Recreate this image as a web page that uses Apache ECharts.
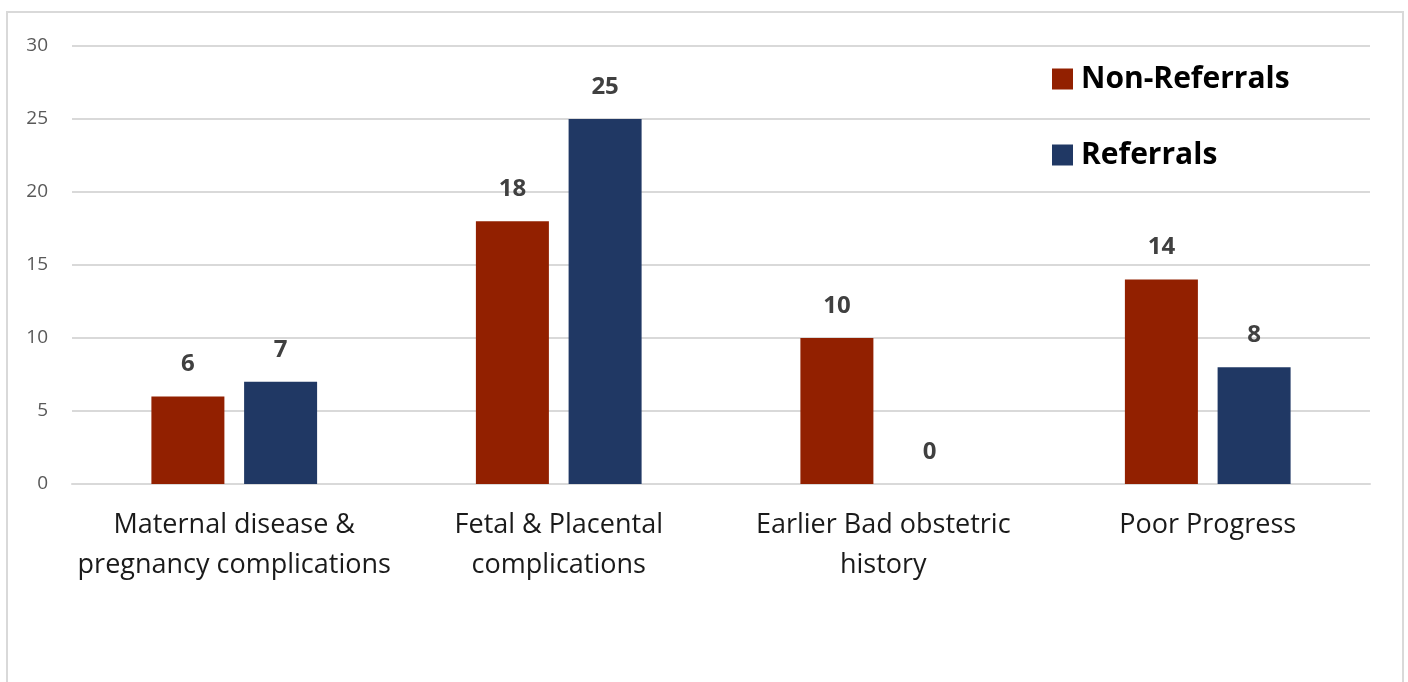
<!DOCTYPE html>
<html>
<head>
<meta charset="utf-8">
<style>
  html, body { margin: 0; padding: 0; background: #ffffff; }
  #chart { width: 1408px; height: 682px; }
</style>
<script src="https://cdn.jsdelivr.net/npm/echarts@6/dist/echarts.min.js"></script>
</head>
<body>
<div id="chart"></div>
<script>
// Indication categories and counts per group
const categories = [
  'Maternal disease &\npregnancy complications',
  'Fetal & Placental\ncomplications',
  'Earlier Bad obstetric\nhistory',
  'Poor Progress'
];
const nonReferrals = [6, 18, 10, 14];
const referrals = [7, 25, 0, 8];
const yTicks = { min: 0, max: 30, interval: 5 };

const FONT = '"Open Sans", "DejaVu Sans", sans-serif';
const RED = '#922000';
const BLUE = '#203864';

const chart = echarts.init(document.getElementById('chart'), null, { renderer: 'canvas' });

const valueLabel = {
  show: true,
  position: 'top',
  distance: 20,
  fontFamily: FONT,
  fontSize: 24,
  fontWeight: 'bold',
  color: '#404040'
};

chart.setOption({
  animation: false,
  backgroundColor: '#ffffff',
  graphic: [{
    type: 'rect',
    shape: { x: 7, y: 12, width: 1396, height: 720 },
    style: { fill: 'none', stroke: '#d9d9d9', lineWidth: 2 },
    silent: true,
    z: -10
  }],
  grid: { left: 72, right: 38, top: 46, bottom: 198, containLabel: false },
  legend: {
    orient: 'vertical',
    left: 1047,
    top: 59,
    itemWidth: 21,
    itemHeight: 21,
    itemGap: 46,
    icon: 'rect',
    textStyle: {
      fontFamily: FONT,
      fontSize: 30,
      fontWeight: 'bold',
      color: '#000000',
      padding: [0, 0, 0, 3]
    },
    data: ['Non-Referrals', 'Referrals']
  },
  xAxis: {
    type: 'category',
    data: categories,
    axisLine: { show: true, lineStyle: { color: '#d9d9d9', width: 2 } },
    axisTick: { show: false },
    axisLabel: {
      fontFamily: FONT,
      fontSize: 27,
      color: '#1a1a1a',
      lineHeight: 40,
      margin: 21,
      interval: 0
    }
  },
  yAxis: {
    type: 'value',
    min: yTicks.min,
    max: yTicks.max,
    interval: yTicks.interval,
    axisLine: { show: false },
    axisTick: { show: false },
    splitLine: { lineStyle: { color: '#d9d9d9', width: 2 } },
    axisLabel: {
      fontFamily: FONT,
      fontSize: 19,
      color: '#595959',
      margin: 24
    }
  },
  series: [
    {
      name: 'Non-Referrals',
      type: 'bar',
      data: nonReferrals,
      barWidth: 73,
      barGap: '27%',
      itemStyle: { color: RED },
      label: valueLabel
    },
    {
      name: 'Referrals',
      type: 'bar',
      data: referrals,
      barWidth: 73,
      itemStyle: { color: BLUE },
      label: valueLabel
    }
  ]
});
</script>
</body>
</html>
